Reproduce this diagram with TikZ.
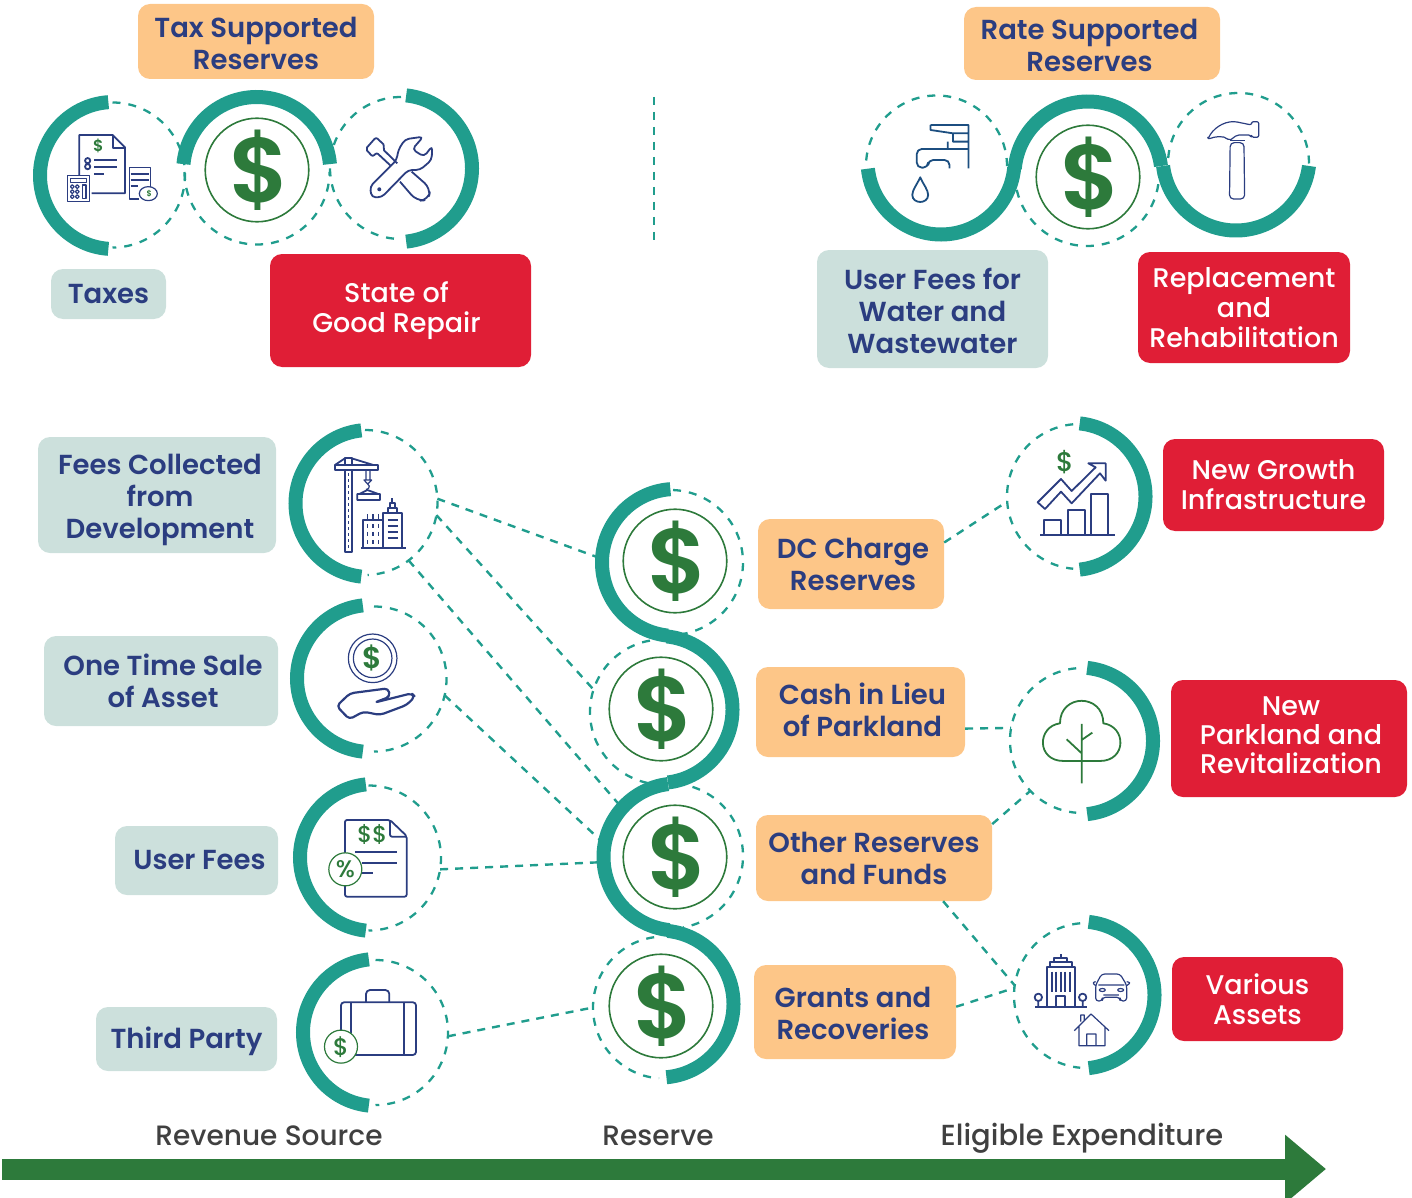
\documentclass[tikz,border=0pt]{standalone}
\usepackage{fontspec}
\setmainfont{Poppins Medium}[BoldFont={Poppins SemiBold}]
\usetikzlibrary{arrows.meta}

\definecolor{ringteal}{HTML}{209D8D}
\definecolor{coingreen}{HTML}{2D7A3B}
\definecolor{inknavy}{HTML}{2B3D80}
\definecolor{tapnavy}{HTML}{1C4E80}
\definecolor{boxorange}{HTML}{FDC688}
\definecolor{boxteal}{HTML}{CCE0DC}
\definecolor{boxred}{HTML}{E01E36}
\definecolor{labelgrey}{HTML}{404040}

% pushes the first line of a box down by about #1
\newcommand{\pushdown}[1]{\rule{0pt}{\dimexpr 21pt+2\dimexpr #1\relax\relax}}
% pushes the last line of a box up by about half of #1
\newcommand{\pushup}[1]{\rule[-#1]{0pt}{#1}}
% moves one centred line sideways by #1
\newcommand{\nudge}[1]{\hspace*{\dimexpr 2\dimexpr #1\relax\relax}}

\tikzset{
  basebox/.style   = {shape=rectangle, rounded corners=12pt, align=center,
                      inner sep=0pt, font=\fontsize{27.5}{32}\selectfont\bfseries},
  orangebox/.style = {basebox, fill=boxorange, text=inknavy},
  tealbox/.style   = {basebox, fill=boxteal, text=inknavy},
  redbox/.style    = {basebox, fill=boxred, text=white,
                      font=\fontsize{27}{30}\selectfont},
  ringnode/.style  = {shape=circle, minimum size=145pt, inner sep=0pt, outer sep=0pt},
  dashring/.style  = {draw=ringteal, line width=2.3pt, dash pattern=on 8pt off 8pt},
  ringarc/.style   = {draw=ringteal, line width=14pt},
  coin/.style      = {shape=circle, draw=coingreen, line width=1.6pt, minimum size=102pt,
                      inner sep=0pt, text=coingreen,
                      font=\fontsize{92}{92}\selectfont\bfseries},
  link/.style      = {draw=ringteal, line width=2.4pt, dash pattern=on 8pt off 7pt},
  flowarrow/.style = {draw=coingreen, line width=21pt,
                      -{Triangle[length=41pt,width=66pt]}},
  axislabel/.style = {text=labelgrey, font=\fontsize{28}{32}\selectfont, inner sep=0pt, anchor=base},
  icon/.style      = {draw=inknavy, line width=1.8pt, line join=round},
  iconthin/.style  = {draw=inknavy, line width=1.2pt, line join=round},
  icongreen/.style = {draw=coingreen, line width=1.8pt, line join=round},
  tapline/.style   = {draw=tapnavy, line width=1.8pt, line join=round},
  iconmark/.style  = {text=coingreen, inner sep=0pt},
  badge/.style     = {shape=circle, draw=coingreen, fill=white, line width=1.2pt,
                      minimum size=33pt, inner sep=0pt, text=coingreen},
  cropat/.style 2 args = {shift={(#1,#2)}, x=.3333pt, y=-.3333pt},
  cropwide/.style 2 args = {shift={(#1,#2)}, x=.3444pt, y=-.3333pt}
}

\begin{document}
\begin{tikzpicture}[x=1pt,y=-1pt]
\useasboundingbox (0,0) rectangle (1412,1198);

% dashed rings: name / x / y / radius / dash from / dash to
\foreach \ringname/\rx/\ry/\rr/\df/\dt in {
    taxes/112.5/175/72.5/90/-90, taxcoin/257/172/72.5/180/360, tools/401/168/71/90/270,
    water/936.5/166/70.5/0/180, ratecoin/1087/174/72/180/360, hammer/1238.5/163.5/70.5/0/180,
    fees/365/502.5/72.5/90/-88, sale/374/679/72.5/90/-90, userfee/368.5/858/72.5/90/-90,
    third/375.5/1032.5/72.5/90/-90,
    dcres/670.5/562.5/72.5/88/-80, cashres/662.5/712/72.5/100/265,
    otherres/670.5/856/72.5/85/-80, grantres/664/1007.5/71/98/266,
    growth/1079.5/496.5/72.5/95/265, park/1082.5/740.5/72.5/95/265, assets/1086.5/995.5/72.5/95/265} {
  \node[ringnode, minimum size=2*\rr pt] (\ringname) at (\rx,\ry) {};
  \draw[dashring] (\ringname.center) ++(\df:\rr pt) arc (\df:\dt:\rr pt);
}

% solid arcs: x / y / from / to
\foreach \ax/\ay/\af/\at in {
    113.5/175.5/94/266, 256.7/170.5/175/5, 398.5/168.5/84/-84,
    941/161/186/355, 1088/175/175/7, 1236/157/187/353,
    369/503.5/96/264, 370.5/678.5/96/264, 373.5/857.5/96/264, 376.5/1032.5/96/264,
    675.5/562.5/94/264, 659/709.5/84/-83, 677/857/97/264, 660/1004/84/-85,
    1072/496.5/84/-84, 1079.5/741/84/-84, 1081/995/84/-84} {
  \draw[ringarc] (\ax,\ay) ++(\af:73.5pt) arc (\af:\at:73.5pt);
}

% coins
\foreach \coinname/\cx/\cy in {
    coina/257/170, coinb/1088/177, coinc/675/561, coind/661/709, coine/675/857, coinf/661/1006} {
  \node[coin] (\coinname) at (\cx,\cy) {\nudge{2.5pt}\$};
}

% boxes
\node[orangebox, minimum width=236pt, minimum height=75pt] (taxsup) at (256,41.5) {\pushdown{2pt}Tax Supported\\Reserves};
\node[orangebox, minimum width=256pt, minimum height=73pt] (ratesup) at (1092,43.5) {\nudge{-2.5pt}\pushdown{2pt}Rate Supported\\\nudge{-2.5pt}Reserves};
\node[tealbox, minimum width=115pt, minimum height=50pt] (taxbox) at (108.5,294) {Taxes};
\node[redbox, minimum width=261pt, minimum height=113pt] (repair) at (400.5,310.5) {\nudge{-4pt}State of\\\nudge{-4pt}Good Repair};
\node[tealbox, minimum width=231pt, minimum height=118pt] (waterfee) at (932.5,309) {\pushdown{2pt}User Fees for\\Water and\\Wastewater};
\node[redbox, minimum width=212pt, minimum height=111pt] (rehab) at (1244,307.5) {Replacement\\and\\Rehabilitation};

\node[tealbox, minimum width=238pt, minimum height=116pt] (feesbox) at (157,495) {\nudge{3pt}\pushdown{5pt}Fees Collected\\\nudge{3pt}from\\\nudge{3pt}Development};
\node[tealbox, minimum width=234pt, minimum height=90pt] (salebox) at (161,681) {\nudge{2pt}One Time Sale\\\nudge{2pt}of Asset};
\node[tealbox, minimum width=163pt, minimum height=69pt] (userbox) at (196.5,860.5) {\nudge{3pt}User Fees};
\node[tealbox, minimum width=181pt, minimum height=64pt] (thirdbox) at (186.5,1039) {\pushdown{3pt}Third Party};

\node[orangebox, minimum width=186pt, minimum height=90pt] (dcbox) at (851,564) {\nudge{2pt}DC Charge\\\nudge{2pt}Reserves};
\node[orangebox, minimum width=209pt, minimum height=90pt] (cashbox) at (860.5,712) {\nudge{2pt}Cash in Lieu\\\nudge{2pt}of Parkland\pushup{4pt}};
\node[orangebox, minimum width=236pt, minimum height=86pt] (otherbox) at (874,858) {Other Reserves\\and Funds};
\node[orangebox, minimum width=202pt, minimum height=94pt] (grantbox) at (855,1012) {\nudge{-2pt}\pushdown{1pt}Grants and\\\nudge{-2pt}Recoveries};

\node[redbox, minimum width=221pt, minimum height=92pt] (newgrowth) at (1273.5,485) {New Growth\\Infrastructure};
\node[redbox, minimum width=236pt, minimum height=117pt, font=\fontsize{27}{29}\selectfont] (newpark) at (1289,738.5) {\nudge{2pt}New\\\nudge{2pt}Parkland and\\\nudge{2pt}Revitalization\pushup{6pt}};
\node[redbox, minimum width=171pt, minimum height=84pt] (various) at (1257.5,999) {Various\\Assets};

% dividing line
\coordinate (divtop) at (654,97);
\coordinate (divend) at (654,243);
\draw[link] (divtop) -- (divend);

% links
\draw[link] (fees.3) -- (dcres.176);
\draw[link] (fees.-10) -- (cashres.162);
\draw[link] (fees.-53) -- (otherres.135);
\draw[link] (sale.-13) -- (otherres.167);
\draw[link] (userfee.-9) -- (otherres.185);
\draw[link] (third.-3) -- (grantres.180);
\draw[link] (dcbox.13) -- (growth.184);
\draw[link] (cashbox.-9) -- (park.170);
\draw[link] (otherbox.16) -- (park.224);
\draw[link] (otherbox.-32) -- (assets.172);
\draw[link] (grantbox.3) -- (assets.174);

% bottom arrow and its labels
\coordinate (flowstart) at (2,1169);
\coordinate (flowend) at (1326,1169);
\draw[flowarrow] (flowstart) -- (flowend);
\node[axislabel] (revlabel) at (269,1145) {Revenue Source};
\node[axislabel] (reslabel) at (658,1145) {Reserve};
\node[axislabel, font=\fontsize{29}{32}\selectfont] (explabel) at (1082,1145) {Eligible Expenditure};

% taxes icon
\begin{scope}[cropat={20}{0}]
\draw[icon] (178,525) -- (178,405) -- (278,405) -- (315,442) -- (315,580) -- (215,580);
\draw[icon] (278,405) -- (278,445) -- (315,445);
\node[iconmark, font=\fontsize{16}{16}\selectfont\bfseries] (taxmark) at (235,437) {\$};
\draw[icon] (203,482) circle (2.6pt) (203,500) circle (2.6pt);
\draw[icon] (222,480) -- (292,480) (222,502) -- (292,502) (222,523) -- (252,523);
\draw[iconthin] (143,527) rectangle (208,604) (152,535) rectangle (200,547);
\foreach \bx in {157,172} \foreach \by in {560,575,590} {\draw[iconthin] (\bx,\by) circle (1.9pt);}
\draw[iconthin] (187,555) rectangle (198,596);
\draw[iconthin] (328,570) -- (328,503) -- (392,503) -- (392,560) (328,570) -- (328,597) -- (358,597);
\draw[icon] (332,522) -- (388,522) (332,540) -- (388,540) (332,557) -- (355,557);
\draw[iconthin] (385,581) ellipse (9pt and 7pt);
\node[iconmark, font=\fontsize{8}{8}\selectfont\bfseries] (pigmark) at (388,581) {\$};
\end{scope}

% tools icon
\begin{scope}[cropat={20}{0}]
\draw[icon, rounded corners=4pt] (1050,560) -- (1130,480) -- (1135,450) -- (1155,418) -- (1210,410) -- (1177,448) -- (1212,470) -- (1237,438) -- (1235,480) -- (1200,510) -- (1165,510) -- (1085,592) -- (1055,592) -- cycle;
\fill[inknavy] (1078,568) circle (2pt);
\draw[icon, rounded corners=2pt] (1112,497) -- (1070,458) -- (1058,470) -- (1037,447) -- (1068,412) -- (1095,437) -- (1088,447) -- (1132,490);
\draw[icon, rounded corners=8pt] (1175,515) -- (1232,565) -- (1225,600) -- (1190,603) -- (1140,545);
\end{scope}

% tap icon
\begin{scope}[cropwide={810}{0}]
\draw[tapline] (350,375) -- (460,375) -- (460,505) (350,375) -- (350,390) -- (415,400) -- (460,400) (415,400) -- (415,425) -- (460,425) (400,425) -- (400,447) -- (460,447);
\draw[tapline, rounded corners=5pt] (400,447) -- (310,447) -- (310,503) -- (343,503) -- (343,480) -- (405,480) -- (405,505);
\draw[tapline] (320,532) .. controls (310,555) and (297,570) .. (297,585) .. controls (297,600) and (310,606) .. (320,606) .. controls (330,606) and (343,600) .. (343,585) .. controls (343,570) and (330,555) .. (320,532) -- cycle;
\end{scope}

% hammer icon
\begin{scope}[cropwide={810}{0}]
\draw[iconthin, rounded corners=4pt] (1220,428) -- (1218,597) -- (1262,597) -- (1260,428) -- cycle;
\draw[iconthin, rounded corners=2pt] (1155,418) .. controls (1170,385) and (1200,365) .. (1235,365) -- (1282,375) -- (1282,365) -- (1303,365) -- (1303,412) -- (1282,412) -- (1280,405) -- (1240,405) -- (1218,422) .. controls (1200,405) and (1175,410) .. (1155,418) -- cycle;
\draw[iconthin] (1218,422) -- (1262,422);
\end{scope}

% crane icon
\begin{scope}[cropat={280}{410}]
\draw[icon] (194,180) rectangle (217,425) (165,165) rectangle (293,180) (195,165) -- (195,143) -- (215,143) -- (215,165);
\draw[icon] (165,165) -- (195,145) (215,145) -- (280,165);
\draw[iconthin, dash pattern=on 3pt off 3pt] (205,190) -- (205,420);
\draw[iconthin] (258,180) -- (258,210) (270,180) -- (270,210) (252,210) -- (275,210) -- (263,222) -- cycle (263,222) .. controls (275,230) and (262,240) .. (258,238);
\draw[icon] (232,252) rectangle (300,270) (238,252) -- (262,240) -- (295,252);
\draw[icon] (250,412) -- (250,330) -- (305,330) (308,412) -- (308,310) -- (367,310) -- (367,412) (325,310) -- (325,295) -- (350,295) -- (350,310) (330,295) -- (330,280) -- (345,280) -- (345,295) (337,280) -- (337,265) (243,413) -- (377,413);
\draw[icon] (323,330) -- (353,330) (323,348) -- (353,348) (323,366) -- (353,366) (323,385) -- (353,385);
\foreach \wx in {262,279,295} {
  \draw[iconthin] (\wx,342) -- (\wx,355) (\wx,366) -- (\wx,378) (\wx,391) -- (\wx,403) (\wx,313) -- (\wx,327);
}
\end{scope}

% coin in hand icon
\begin{scope}[cropat={280}{410}]
\draw[iconthin] (278,745) circle (24.3pt) (278,745) circle (19.3pt);
\node[iconmark, font=\fontsize{30}{30}\selectfont\bfseries] (handmark) at (278,745) {\$};
\draw[icon, line width=2.2pt, rounded corners=4pt] (170,888) -- (210,850) -- (325,835) -- (330,860) -- (283,878) -- (395,850) -- (405,860) -- (380,885) -- (300,915) -- (250,905) -- (208,928) -- cycle;
\end{scope}

% fee document icon
\begin{scope}[cropat={280}{770}]
\draw[icon, rounded corners=2pt] (195,250) -- (195,150) -- (330,150) -- (380,198) -- (380,380) -- (195,380) -- (195,340);
\draw[icon, rounded corners=2pt] (330,150) -- (330,200) -- (380,200);
\node[iconmark, font=\fontsize{23}{23}\selectfont] (docmark) at (277,193) {\$\$};
\draw[icon, line width=2.2pt] (225,247) -- (350,247) (245,278) -- (350,278) (245,310) -- (280,310);
\node[badge] (pctbadge) at (196,298) {\fontsize{24}{24}\selectfont\%};
\end{scope}

% briefcase icon
\begin{scope}[cropat={280}{770}]
\draw[icon, rounded corners=3pt] (183,790) -- (183,697) -- (408,697) -- (408,855) -- (225,855);
\draw[icon, rounded corners=4pt] (258,697) -- (258,660) -- (328,660) -- (328,697);
\draw[icon] (213,697) -- (213,790) (373,697) -- (373,855);
\node[badge] (casebadge) at (183,830) {\fontsize{24}{24}\selectfont\$};
\end{scope}

% growth chart icon
\begin{scope}[cropat={930}{410}]
\draw[icon] (330,376) -- (555,376) (343,376) -- (343,330) -- (393,330) -- (393,376) (414,376) -- (414,300) -- (465,300) -- (465,376) (482,376) -- (482,253) -- (533,253) -- (533,376);
\draw[icon] (323,277) -- (393,207) -- (425,243) -- (497,172) -- (475,160) -- (527,160) -- (527,212) -- (510,190) -- (425,280) -- (393,245) -- (345,297) -- cycle;
\node[iconmark, font=\fontsize{27}{27}\selectfont] (growmark) at (405,155) {\$};
\end{scope}

% tree icon
\begin{scope}[cropat={930}{410}]
\draw[icongreen] (390,940) .. controls (390,850) and (520,850) .. (520,940) .. controls (590,950) and (590,1053) .. (510,1053) -- (400,1053) .. controls (320,1053) and (320,950) .. (390,940) -- cycle;
\draw[icongreen] (455,942) -- (455,1120) (455,1030) -- (410,988) (455,990) -- (487,968);
\end{scope}

% assets icon
\begin{scope}[cropat={930}{890}]
\draw[icon] (350,350) -- (350,232) -- (435,232) -- (435,350) (360,232) -- (360,217) -- (425,217) -- (425,232) (372,217) -- (372,203) -- (412,203) -- (412,217) (392,203) -- (392,192) (315,350) -- (470,350) (378,350) -- (378,317) -- (406,317) -- (406,350);
\foreach \wx in {365,378,392,406,420} {\draw[icon] (\wx,245) -- (\wx,305);}
\draw[icon] (325,322) circle (3.7pt) (458,322) circle (3.7pt) (325,333) -- (325,350) (458,333) -- (458,350);
\draw[iconthin, rounded corners=3pt] (497,285) -- (515,252) -- (570,252) -- (590,285) -- (590,333) -- (570,333) -- (570,322) -- (517,322) -- (517,333) -- (497,333) -- cycle;
\draw[iconthin, rounded corners=2pt] (497,275) -- (487,278) -- (497,287) (590,275) -- (602,278) -- (590,287) (505,285) -- (583,285) (520,315) -- (567,315);
\draw[iconthin] (517,300) ellipse (3pt and 1.5pt) (572,300) ellipse (3pt and 1.5pt);
\draw[iconthin] (433,422) -- (483,372) -- (537,422) (447,410) -- (447,467) -- (525,467) -- (525,410) (470,467) -- (470,432) -- (498,432) -- (498,467) (452,395) -- (452,375) -- (463,375) -- (463,392);
\end{scope}
\end{tikzpicture}
\end{document}
